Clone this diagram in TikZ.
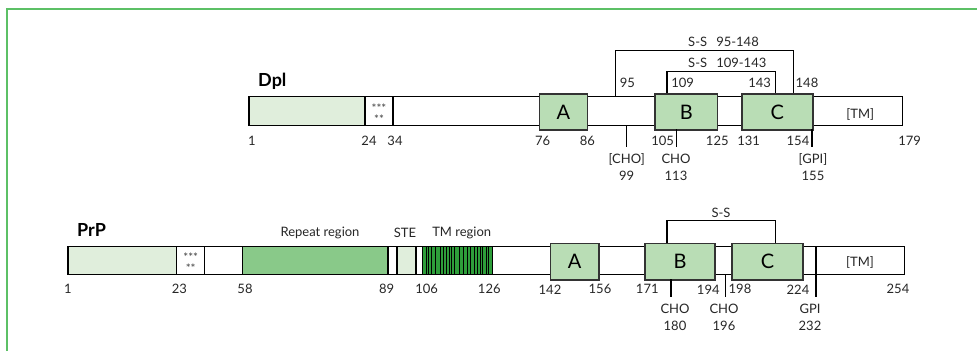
\documentclass[tikz,border=0pt]{standalone}
\usepackage{fontspec}
\setmainfont{Lato}
\definecolor{framegreen}{HTML}{5CC066}
\definecolor{siggreen}{HTML}{E0EEDC}
\definecolor{boxgreen}{HTML}{B9DDB5}
\definecolor{repgreen}{HTML}{89C989}
\definecolor{tmgreen}{HTML}{2E9E3A}
\begin{document}
\begin{tikzpicture}[x=1pt,y=-1pt,
  barline/.style={draw=black, line width=1.1pt},
  dom/.style={draw=black!80, fill=boxgreen, line width=1.5pt, anchor=north west, inner sep=0pt,
    font=\fontsize{20}{21}\selectfont},
  lbl/.style={font=\fontsize{13}{14}\selectfont, inner sep=0pt, text=black!85},
  star/.style={font=\fontsize{11.5}{12}\selectfont, inner sep=0pt, text=black!75},
  title/.style={font=\fontsize{18}{19}\selectfont\bfseries, inner sep=0pt, anchor=west},
  conn/.style={draw=black, line width=1.1pt},
  tick/.style={draw=black, line width=1.1pt}]
\useasboundingbox (0,0) rectangle (977,351);
% frame
\draw[framegreen, line width=2pt] (6.7,351) -- (6.7,9.3) -- (977,9.3);

% ================= Dpl =================
\node[title] (dpl) at (258,81.7) {Dpl};
\fill[white] (249,96.7) rectangle (902.7,125.3);
\fill[siggreen] (249,96.7) rectangle (365,125.3);
\draw[barline] (249,96.7) rectangle (902.7,125.3);
\draw[barline] (365,96.7) -- (365,125.3);
\draw[barline] (393,96.7) -- (393,125.3);
\node[star] (ds1) at (379,107.8) {***};
\node[star] (ds2) at (379,118.8) {**};
\node[dom, minimum width=48pt, minimum height=36pt] (dA) at (538.7,93.3) {A};
\node[dom, minimum width=62.4pt, minimum height=36pt] (dB) at (654.3,93.3) {B};
\node[dom, minimum width=71pt, minimum height=36pt] (dC) at (741,93.3) {C};
\node[lbl] (dTM) at (860.3,114) {[TM]};
% disulfide brackets
\coordinate (d95) at (615.7,96.7);
\coordinate (d148) at (793.7,93.3);
\coordinate (d109) at (667,93.3);
\coordinate (d143) at (775.7,93.3);
\draw[conn] (d95) -- (615.7,50.7) -- (793.7,50.7) -- (d148);
\draw[conn] (d109) -- (667,71.3) -- (775.7,71.3) -- (d143);
\node[lbl, anchor=west] (dss1) at (688,42.3) {S-S\hspace{0.7em}95-148};
\node[lbl, anchor=west] (dss2) at (688,63.3) {S-S\hspace{0.7em}109-143};
\node[lbl] (n95) at (627.3,83.3) {95};
\node[lbl] (n109) at (682.7,83.3) {109};
\node[lbl] (n143) at (759.7,83.3) {143};
\node[lbl] (n148) at (807,83.3) {148};
% numbers
\foreach \x/\t in {252/1,369/24,395/34,542.7/76,587.3/86,662.7/105,717.3/125,748.7/131,798/154,909.7/179}
  \node[lbl] at (\x,140.7) {\t};
% ticks
\coordinate (dt99a) at (626.7,125.3);  \coordinate (dt99b) at (626.7,147.3);
\coordinate (dt113a) at (676.7,129.3); \coordinate (dt113b) at (676.7,147.3);
\coordinate (dt155a) at (812,129.3);   \coordinate (dt155b) at (812,147.3);
\draw[tick] (dt99a) -- (dt99b);
\draw[tick] (dt113a) -- (dt113b);
\draw[tick] (dt155a) -- (dt155b);
\node[lbl] (dcho1) at (626.7,159.3) {[CHO]};
\node[lbl] (dcho1n) at (626.7,175.7) {99};
\node[lbl] (dcho2) at (676,159.3) {CHO};
\node[lbl] (dcho2n) at (676,175.7) {113};
\node[lbl] (dgpi) at (813,159.3) {[GPI]};
\node[lbl] (dgpin) at (813,175.7) {155};

% ================= PrP =================
\node[title] (prp) at (77,230) {PrP};
\fill[white] (68,246.7) rectangle (904.5,274.7);
\fill[siggreen] (68,246.7) rectangle (176.7,274.7);
\fill[repgreen] (242.7,246.7) rectangle (388,274.7);
\fill[siggreen] (397,246.7) rectangle (416,274.7);
\fill[tmgreen] (422.3,246.7) rectangle (492.7,274.7);
\foreach \x in {422.7,426.7,428.7,431.7,435,440,443.3,446.7,449,451.7,454,459.3,463.3,467.3,470,474.3,477.3,480,482.7,486,488.3,492.7}
  \draw[black, line width=0.9pt] (\x,246.7) -- (\x,274.7);
\draw[barline] (68,246.7) rectangle (904.5,274.7);
\foreach \x in {176.7,204.7,242.7,397,416,422.3}
  \draw[barline] (\x,246.7) -- (\x,274.7);
\draw[black, line width=2pt] (388.3,246.7) -- (388.3,274.7);
\node[star] (ps1) at (190.7,256.8) {***};
\node[star] (ps2) at (190.7,267.8) {**};
\node[lbl] (rep) at (320,233.3) {Repeat region};
\node[lbl] (ste) at (405,233.3) {STE};
\node[lbl] (tmr) at (461.7,233.3) {TM region};
\node[dom, minimum width=48.6pt, minimum height=36.6pt] (pA) at (549.7,242.7) {A};
\node[dom, minimum width=70pt, minimum height=36.6pt] (pB) at (644.3,242.7) {B};
\node[dom, minimum width=71pt, minimum height=36.6pt] (pC) at (731.3,242.7) {C};
\node[lbl] (pTM) at (860,262.7) {[TM]};
% disulfide
\coordinate (pssa) at (667,242.7);
\coordinate (pssb) at (775.3,242.7);
\draw[conn] (pssa) -- (667,220.7) -- (775.3,220.7) -- (pssb);
\node[lbl] (pss) at (721,213) {S-S};
% numbers
\foreach \x/\t in {68/1,179.3/23,245/58,386.7/89,426.7/106,489.3/126,550/142,600/156,647.3/171,708.3/194,740/198,798/224,898/254}
  \node[lbl] at (\x,289.3) {\t};
% ticks
\coordinate (pt180a) at (671,279.3);   \coordinate (pt180b) at (671,296.7);
\coordinate (pt196a) at (725.3,274.7); \coordinate (pt196b) at (725.3,296.7);
\coordinate (pt232a) at (816,246.7);   \coordinate (pt232b) at (816,296.7);
\draw[tick] (pt180a) -- (pt180b);
\draw[tick] (pt196a) -- (pt196b);
\draw[tick, line width=1.6pt] (pt232a) -- (pt232b);
\node[lbl] (pcho1) at (675,309.3) {CHO};
\node[lbl] (pcho1n) at (675,325.7) {180};
\node[lbl] (pcho2) at (724,309.3) {CHO};
\node[lbl] (pcho2n) at (724,325.7) {196};
\node[lbl] (pgpi) at (810,309.3) {GPI};
\node[lbl] (pgpin) at (810,325.7) {232};
\end{tikzpicture}
\end{document}
